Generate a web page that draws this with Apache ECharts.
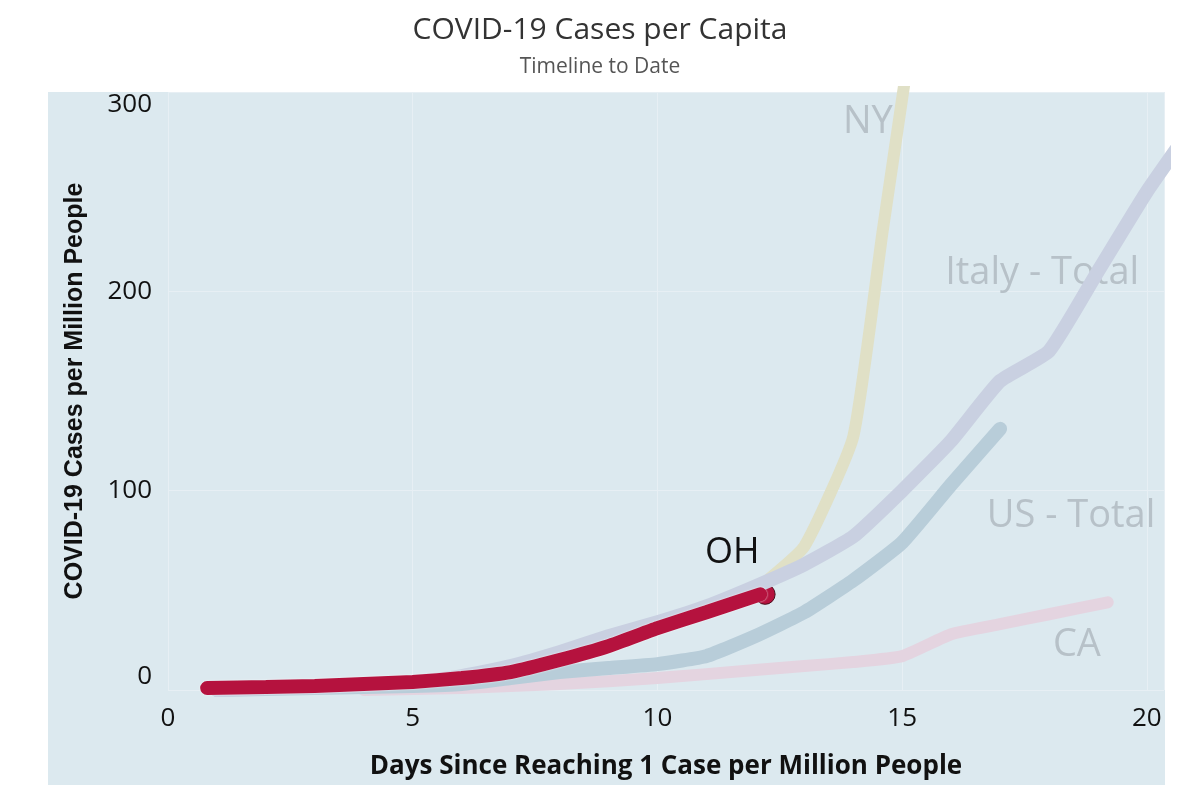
<!DOCTYPE html>
<html><head><meta charset="utf-8">
<script src="https://cdn.jsdelivr.net/npm/echarts@6/dist/echarts.min.js"></script>
<style>html,body{margin:0;padding:0;background:#fff}#c{width:1200px;height:798px}</style>
</head><body><div id="c"></div>
<script>
const xTicks=[0,5,10,15,20];
const ohData=[[0.8,1],[2,1.5],[3,2],[4,3],[5,4],[6,6],[7,9],[8,15],[9,22],[10,31],[11,39],[12.1,48]];
const italyData=[[1,0],[2,1],[3,1.5],[4,2.5],[5,4],[6,7],[7,12],[8,19],[9,27],[10,34],[11,42],[12,52],[13,63],[14,77],[15,100],[16,125],[17,155],[18,170],[19,210],[20,250],[21,285]];
const usData=[[1,0],[2,0.5],[3,1],[4,1.5],[5,2],[6,3],[7,6],[8,9],[9,11],[10,13],[11,17],[12,27],[13,39],[14,55],[15,74],[16,103],[17,131]];
const nyData=[[12,50],[13,72],[14,127],[14.6,230],[15.2,330]];
const caData=[[4,0],[6,1],[8,3],[10,6],[12,10],[13,12],[14,14],[15,17],[16,28],[17,33],[18,38],[19.2,44]];
const labels=[{name:'NY',coord:[14.3,285],color:'#b7c1c8'},{name:'Italy - Total',coord:[17.86,209],color:'#b7c1c8'},{name:'US - Total',coord:[18.45,87],color:'#b7c1c8'},{name:'CA',coord:[18.57,22.5],color:'#b7c1c8'}];
const ch=echarts.init(document.getElementById('c'));
function ln(name,data,color,w,z){return {name,type:'line',data,symbol:'none',z,clip:true,lineStyle:{color,width:w,cap:'round',join:'round'},smooth:0.15};}
const font='"Open Sans", sans-serif';
const s=[ln('NY',nyData,'#e0e0c6',12,2),ln('CA',caData,'#e4d4e0',12,3),ln('US',usData,'#b8cdd9',14,4),ln('Italy',italyData,'#c9d0e1',14,5)];
s.push({name:'OH',type:'line',data:ohData,z:10,symbol:'none',smooth:0.15,lineStyle:{color:'#b5123e',width:14,cap:'round',shadowColor:'rgba(255,255,255,0.9)',shadowBlur:2},
 markPoint:{symbol:'circle',symbolSize:20,itemStyle:{color:'#b5123e',borderColor:'#4a0f1c',borderWidth:1},label:{show:false},data:[{coord:[12.2,48]}]}});
s.push({type:'scatter',data:[],z:11,markPoint:{symbol:'rect',symbolSize:1,itemStyle:{color:'transparent'},
 data:labels.map(l=>({coord:l.coord,label:{show:true,formatter:l.name,color:l.color,fontSize:38,fontFamily:font,position:'inside'}})).concat([{coord:[11.53,69],label:{show:true,formatter:'OH',color:'#111',fontSize:36,fontFamily:font,position:'inside'}}])}});
ch.setOption({
 animation:false,
 title:{text:'COVID-19 Cases per Capita',subtext:'Timeline to Date',left:'center',top:10,itemGap:12,
  textStyle:{fontFamily:font,fontSize:30,fontWeight:'normal',color:'#333'},subtextStyle:{fontFamily:font,fontSize:21,color:'#555'}},
 graphic:[{type:'rect',shape:{x:48,y:92,width:1117,height:693},style:{fill:'#dce9ef'},z:-10,silent:true}],
 grid:{left:168,right:36,top:92,bottom:108},
 xAxis:{type:'value',min:0,max:20.35,interval:5,axisLine:{show:false},axisTick:{show:false},
  splitLine:{show:true,lineStyle:{color:'#e7eff4',width:1}},
  axisLabel:{fontSize:26,color:'#111',fontFamily:font,margin:16,customValues:xTicks},
  name:'Days Since Reaching 1 Case per Million People',nameLocation:'middle',nameGap:64,
  nameTextStyle:{fontSize:26,fontWeight:'bold',color:'#111',fontFamily:font}},
 yAxis:{type:'value',min:0,max:300,interval:100,axisLine:{show:false},axisTick:{show:false},
  splitLine:{lineStyle:{color:'#e7eff4',width:1}},
  axisLabel:{fontSize:26,color:'#111',fontFamily:font,margin:16,verticalAlignMinLabel:'bottom',verticalAlignMaxLabel:'top'},
  name:'COVID-19 Cases per Million People',nameLocation:'middle',nameGap:80,
  nameTextStyle:{fontSize:25,fontWeight:'bold',color:'#111',fontFamily:'"Liberation Sans", Arial'}},
 series:s
});
</script></body></html>
